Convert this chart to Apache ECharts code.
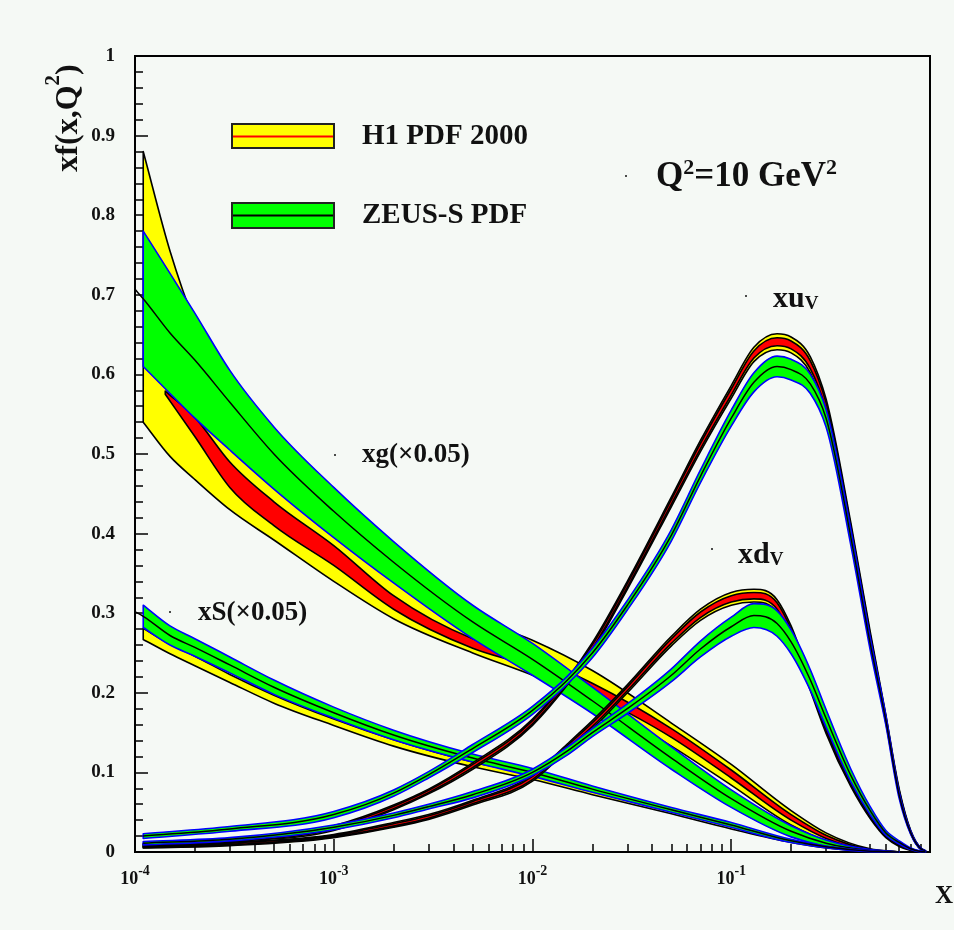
<!DOCTYPE html>
<html>
<head>
<meta charset="utf-8">
<script src="https://cdn.jsdelivr.net/npm/echarts@6.0.0/dist/echarts.min.js"></script>
<style>
  html, body { margin: 0; padding: 0; background: #f5f9f5; }
  #chart { width: 954px; height: 930px; }
</style>
</head>
<body>
<div id="chart"></div>
<script>
// ---- x grids -------------------------------------------------------------
const xLineStart = 1e-4;
const xBand = [1.1e-4, 1.5e-4, 2e-4, 3e-4, 5e-4, 1e-3, 2e-3, 5e-3, 1e-2, 2e-2, 5e-2, 0.1, 0.2, 0.3, 0.5, 0.7];
const xExp  = [1.42e-4, 2e-4, 3e-4, 5e-4, 1e-3, 2e-3, 5e-3, 1e-2, 2e-2, 5e-2, 0.1, 0.2, 0.3, 0.5, 0.7];
const xVal  = [1.1e-4, 3e-4, 1e-3, 2e-3, 3e-3, 5e-3, 1e-2, 1.5e-2, 2e-2, 3e-2, 5e-2, 7e-2, 0.1, 0.13, 0.17, 0.2, 0.25, 0.3, 0.4, 0.5, 0.6, 0.7, 0.8, 0.9, 0.95];
const xMinorTicks = [2e-4, 3e-4, 4e-4, 5e-4, 6e-4, 7e-4, 8e-4, 9e-4,
                     2e-3, 3e-3, 4e-3, 5e-3, 6e-3, 7e-3, 8e-3, 9e-3,
                     2e-2, 3e-2, 4e-2, 5e-2, 6e-2, 7e-2, 8e-2, 9e-2,
                     0.2, 0.3, 0.4, 0.5, 0.6, 0.7, 0.8, 0.9];

// ---- gluon xg (x0.05) ------------------------------------------------------
// H1 PDF 2000: total band (yellow) and experimental band (red)
const h1XgLo    = [0.54, 0.497, 0.468, 0.43, 0.392, 0.34, 0.293, 0.25, 0.222, 0.19, 0.133, 0.084, 0.034, 0.014, 0.002, 0];
const h1XgHi    = [0.88, 0.755, 0.665, 0.58, 0.505, 0.425, 0.358, 0.295, 0.266, 0.228, 0.162, 0.11, 0.052, 0.024, 0.004, 0];
const h1XgExpLo = [0.575, 0.522, 0.458, 0.41, 0.36, 0.305, 0.256, 0.232, 0.198, 0.144, 0.093, 0.04, 0.017, 0.002, 0];
const h1XgExpHi = [0.579, 0.546, 0.49, 0.44, 0.385, 0.322, 0.268, 0.246, 0.212, 0.155, 0.103, 0.047, 0.021, 0.003, 0];
// ZEUS-S: band and central fit (central curve starts at xLineStart)
const zXgLo  = [0.61, 0.576, 0.545, 0.505, 0.456, 0.395, 0.338, 0.268, 0.222, 0.174, 0.104, 0.056, 0.019, 0.007, 0.001, 0];
const zXgHi  = [0.78, 0.727, 0.677, 0.605, 0.534, 0.458, 0.39, 0.31, 0.262, 0.207, 0.132, 0.078, 0.033, 0.015, 0.003, 0];
const zXgMid = [0.707, 0.695, 0.652, 0.618, 0.565, 0.50, 0.428, 0.364, 0.289, 0.242, 0.19, 0.118, 0.067, 0.026, 0.011, 0.002, 0];

// ---- sea xS (x0.05) --------------------------------------------------------
const h1SMid = [0.274, 0.255, 0.24, 0.218, 0.192, 0.163, 0.137, 0.11, 0.094, 0.075, 0.05, 0.031, 0.013, 0.006, 0.001, 0];
const h1SErr = [0.007, 0.006, 0.006, 0.005, 0.005, 0.004, 0.004, 0.003, 0.003, 0.003, 0.002, 0.002, 0.001, 0.001, 0.0003, 0];
const zSMid  = [0.302, 0.296, 0.272, 0.257, 0.235, 0.207, 0.175, 0.147, 0.118, 0.10, 0.079, 0.053, 0.034, 0.014, 0.0065, 0.001, 0];
const zSErr  = [0.014, 0.012, 0.011, 0.01, 0.009, 0.007, 0.006, 0.005, 0.005, 0.004, 0.003, 0.003, 0.002, 0.001, 0.0005, 0];

// ---- valence xu_v ----------------------------------------------------------
const h1UvMid    = [0.009, 0.015, 0.03, 0.056, 0.076, 0.108, 0.163, 0.214, 0.258, 0.335, 0.44, 0.51, 0.578, 0.625, 0.641, 0.637, 0.612, 0.56, 0.405, 0.27, 0.167, 0.075, 0.025, 0.004, 0.001];
const h1UvErr    = [0.002, 0.002, 0.003, 0.003, 0.003, 0.004, 0.004, 0.004, 0.005, 0.005, 0.006, 0.007, 0.008, 0.009, 0.01, 0.01, 0.01, 0.009, 0.008, 0.007, 0.005, 0.004, 0.002, 0.001, 0.0005];
const h1UvExpErr = [0.001, 0.001, 0.0015, 0.0015, 0.0015, 0.002, 0.002, 0.002, 0.0025, 0.0025, 0.003, 0.0035, 0.004, 0.0045, 0.005, 0.005, 0.005, 0.0045, 0.004, 0.0035, 0.0025, 0.002, 0.001, 0.0005, 0.0002];
const zUvMid = [0.02, 0.029, 0.047, 0.074, 0.097, 0.13, 0.178, 0.216, 0.25, 0.31, 0.398, 0.472, 0.545, 0.59, 0.61, 0.606, 0.588, 0.545, 0.395, 0.262, 0.165, 0.071, 0.024, 0.004, 0.001];
const zUvErr = [0.003, 0.003, 0.004, 0.004, 0.004, 0.005, 0.005, 0.005, 0.006, 0.006, 0.007, 0.008, 0.01, 0.012, 0.013, 0.013, 0.012, 0.011, 0.01, 0.008, 0.006, 0.004, 0.002, 0.001, 0.0005];

// ---- valence xd_v ----------------------------------------------------------
const h1DvMid    = [0.006, 0.01, 0.02, 0.034, 0.044, 0.062, 0.093, 0.132, 0.16, 0.205, 0.265, 0.298, 0.318, 0.322, 0.309, 0.276, 0.21, 0.155, 0.087, 0.046, 0.021, 0.009, 0.003, 0.0005, 0.0001];
const h1DvErr    = [0.001, 0.002, 0.002, 0.003, 0.003, 0.003, 0.004, 0.004, 0.005, 0.005, 0.006, 0.007, 0.008, 0.008, 0.008, 0.008, 0.007, 0.006, 0.005, 0.004, 0.003, 0.002, 0.001, 0.0003, 0.0001];
const h1DvExpErr = [0.0005, 0.001, 0.001, 0.0015, 0.0015, 0.0015, 0.002, 0.002, 0.0025, 0.0025, 0.003, 0.0035, 0.004, 0.004, 0.004, 0.004, 0.0035, 0.003, 0.0025, 0.002, 0.0015, 0.001, 0.0005, 0.0002, 0.0001];
const zDvMid = [0.011, 0.016, 0.031, 0.046, 0.057, 0.072, 0.1, 0.127, 0.15, 0.18, 0.222, 0.255, 0.283, 0.297, 0.287, 0.264, 0.216, 0.168, 0.096, 0.052, 0.024, 0.012, 0.004, 0.0006, 0.0001];
const zDvErr = [0.002, 0.002, 0.003, 0.003, 0.003, 0.004, 0.004, 0.005, 0.005, 0.006, 0.008, 0.01, 0.012, 0.015, 0.016, 0.015, 0.013, 0.011, 0.008, 0.005, 0.003, 0.002, 0.001, 0.0005, 0.0001];

// ---- styling ---------------------------------------------------------------
const FONT = '"Liberation Serif", "Times New Roman", serif';
const YELLOW = '#ffff00', RED = '#ff0000', GREEN = '#00ff00', BLUE = '#0000ff', INK = '#000000';

const plus  = (c, e) => c.map((v, i) => v + e[i]);
const minus = (c, e) => c.map((v, i) => Math.max(0, v - e[i]));

// Shape-preserving cubic path through pixel points (x strictly monotone).
function curve(pts, start) {
  const n = pts.length;
  let d = start ? 'M' + pts[0][0] + ' ' + pts[0][1] : '';
  if (n < 2) return d;
  const dx = [], m = [];
  for (let i = 0; i < n - 1; i++) {
    dx.push(pts[i + 1][0] - pts[i][0]);
    m.push((pts[i + 1][1] - pts[i][1]) / dx[i]);
  }
  const t = [m[0]];
  for (let i = 1; i < n - 1; i++) {
    if (m[i - 1] * m[i] <= 0) { t.push(0); continue; }
    const p = (m[i - 1] * dx[i] + m[i] * dx[i - 1]) / (dx[i - 1] + dx[i]);
    t.push(Math.sign(m[i]) * Math.min(Math.abs(p), 3 * Math.min(Math.abs(m[i - 1]), Math.abs(m[i]))));
  }
  t.push(m[n - 2]);
  for (let i = 0; i < n - 1; i++) {
    const h = dx[i] / 3;
    d += ' C' + (pts[i][0] + h) + ' ' + (pts[i][1] + h * t[i]) + ' ' +
         (pts[i + 1][0] - h) + ' ' + (pts[i + 1][1] - h * t[i + 1]) + ' ' +
         pts[i + 1][0] + ' ' + pts[i + 1][1];
  }
  return d;
}

// Filled uncertainty band between lo and hi, outlined.
function band(name, xs, lo, hi, fill, edge) {
  return {
    name, type: 'custom', coordinateSystem: 'cartesian2d', silent: true,
    data: [[xs[0], hi[0]]],
    renderItem(params, api) {
      const top = xs.map((x, i) => api.coord([x, hi[i]]));
      const bot = xs.map((x, i) => api.coord([x, lo[i]])).reverse();
      const d = curve(top, true) + ' L' + bot[0][0] + ' ' + bot[0][1] + curve(bot, false) + ' Z';
      return { type: 'path', shape: { pathData: d },
               style: { fill, stroke: edge, lineWidth: 1.6, lineJoin: 'round' } };
    }
  };
}

// Central fit curve.
function central(name, xs, ys) {
  return {
    name, type: 'custom', coordinateSystem: 'cartesian2d', silent: true,
    data: [[xs[0], ys[0]]],
    renderItem(params, api) {
      const pts = xs.map((x, i) => api.coord([x, ys[i]]));
      return { type: 'path', shape: { pathData: curve(pts, true) },
               style: { fill: 'none', stroke: INK, lineWidth: 1.5 } };
    }
  };
}

const xBandLine = [xLineStart].concat(xBand);

const series = [
  // gluon
  band('H1 xg total', xBand, h1XgLo, h1XgHi, YELLOW, INK),
  band('H1 xg exp', xExp, h1XgExpLo, h1XgExpHi, RED, INK),
  band('ZEUS-S xg', xBand, zXgLo, zXgHi, GREEN, BLUE),
  central('ZEUS-S xg fit', xBandLine, zXgMid),
  // sea
  band('H1 xS total', xBand, minus(h1SMid, h1SErr), plus(h1SMid, h1SErr), YELLOW, INK),
  band('ZEUS-S xS', xBand, minus(zSMid.slice(1), zSErr), plus(zSMid.slice(1), zSErr), GREEN, BLUE),
  central('ZEUS-S xS fit', xBandLine, zSMid),
  // u valence
  band('H1 xuv total', xVal, minus(h1UvMid, h1UvErr), plus(h1UvMid, h1UvErr), YELLOW, INK),
  band('H1 xuv exp', xVal, minus(h1UvMid, h1UvExpErr), plus(h1UvMid, h1UvExpErr), RED, INK),
  band('ZEUS-S xuv', xVal, minus(zUvMid, zUvErr), plus(zUvMid, zUvErr), GREEN, BLUE),
  central('ZEUS-S xuv fit', xVal, zUvMid),
  // d valence
  band('H1 xdv total', xVal, minus(h1DvMid, h1DvErr), plus(h1DvMid, h1DvErr), YELLOW, INK),
  band('H1 xdv exp', xVal, minus(h1DvMid, h1DvExpErr), plus(h1DvMid, h1DvExpErr), RED, INK),
  band('ZEUS-S xdv', xVal, minus(zDvMid, zDvErr), plus(zDvMid, zDvErr), GREEN, BLUE),
  central('ZEUS-S xdv fit', xVal, zDvMid)
];

// ---- annotations -----------------------------------------------------------
function txt(x, y, text, size, rich, align, rotation) {
  return {
    type: 'text', x, y, silent: true, z: 100, rotation: rotation || 0,
    style: { text, font: 'bold ' + size + 'px ' + FONT, fill: '#111',
             textAlign: align || 'left', textVerticalAlign: 'middle', rich: rich || undefined }
  };
}
const dot = (x, y) => ({ type: 'circle', silent: true, z: 100, shape: { cx: x, cy: y, r: 1 }, style: { fill: '#111' } });

const richSup = (main, mainLH, sup, supLH) => ({
  m: { fontSize: main, fontWeight: 'bold', fontFamily: FONT, lineHeight: mainLH, fill: '#111' },
  s: { fontSize: sup, fontWeight: 'bold', fontFamily: FONT, lineHeight: supLH, verticalAlign: 'top', fill: '#111' },
  d: { fontSize: sup, fontWeight: 'bold', fontFamily: FONT, lineHeight: supLH, verticalAlign: 'bottom', fill: '#111' }
});

const graphic = [
  // legend
  { type: 'rect', silent: true, z: 100, shape: { x: 232, y: 124, width: 102, height: 24 }, style: { fill: YELLOW, stroke: '#222', lineWidth: 2 } },
  { type: 'line', silent: true, z: 101, shape: { x1: 233, y1: 136.5, x2: 333, y2: 136.5 }, style: { stroke: RED, lineWidth: 2 } },
  { type: 'rect', silent: true, z: 100, shape: { x: 232, y: 203, width: 102, height: 25 }, style: { fill: GREEN, stroke: '#222', lineWidth: 2 } },
  { type: 'line', silent: true, z: 101, shape: { x1: 233, y1: 215.5, x2: 333, y2: 215.5 }, style: { stroke: INK, lineWidth: 2 } },
  txt(362, 137, 'H1 PDF 2000', 29),
  txt(362, 216, 'ZEUS-S PDF', 29),
  // curve labels
  dot(626, 176),
  txt(656, 177, '{m|Q}{s|2}{m|=10 GeV}{s|2}', 35, richSup(35, 40, 22, 6)),
  dot(335, 455),
  txt(362, 455, 'xg(\u00d70.05)', 27),
  dot(170, 612),
  txt(198, 613, 'xS(\u00d70.05)', 27),
  dot(746, 296),
  txt(773, 299, '{m|xu}{d|V}', 30, richSup(30, 30, 19, 10)),
  dot(712, 549),
  txt(738, 555, '{m|xd}{d|V}', 30, richSup(30, 30, 19, 10)),
  // axis titles
  txt(69, 118, '{m|xf(x,Q}{s|2}{m|)}', 32, richSup(32, 52, 21, 4), 'center', Math.PI / 2),
  txt(944, 897, 'X', 25, null, 'center')
];

const axisText = { color: '#111', fontFamily: FONT, fontWeight: 'bold' };

const option = {
  backgroundColor: '#f5f9f5',
  animation: false,
  grid: { left: 135, right: 24, top: 56, bottom: 78, show: true, borderColor: INK, borderWidth: 2, backgroundColor: 'transparent' },
  xAxis: [
    {
      type: 'log', logBase: 10, min: 1e-4, max: 1, position: 'bottom',
      axisLine: { lineStyle: { color: INK, width: 2 } },
      axisTick: { inside: true, length: 13, lineStyle: { color: INK, width: 1.5 } },
      splitLine: { show: false },
      axisLabel: {
        margin: 12,
        formatter: v => {
          const e = Math.round(Math.log10(v));
          return e >= 0 ? '' : '{b|10}{e|' + e + '}';
        },
        rich: {
          b: Object.assign({ fontSize: 18, lineHeight: 30 }, axisText),
          e: Object.assign({ fontSize: 14, lineHeight: 4, verticalAlign: 'top' }, axisText)
        }
      }
    },
    {
      type: 'log', logBase: 10, min: 1e-4, max: 1, position: 'bottom',
      axisLine: { show: false }, axisLabel: { show: false }, splitLine: { show: false },
      axisTick: { inside: true, length: 8, customValues: xMinorTicks, lineStyle: { color: INK, width: 1.5 } }
    }
  ],
  yAxis: {
    type: 'value', min: 0, max: 1, interval: 0.1,
    axisLine: { show: true, lineStyle: { color: INK, width: 2 } },
    axisTick: { show: true, inside: true, length: 13, lineStyle: { color: INK, width: 1.5 } },
    minorTick: { show: true, splitNumber: 5, length: 8, lineStyle: { color: INK, width: 1.5 } },
    splitLine: { show: false },
    axisLabel: Object.assign({ margin: 20, fontSize: 19 }, axisText)
  },
  series,
  graphic
};

const chart = echarts.init(document.getElementById('chart'), null, { renderer: 'canvas' });
chart.setOption(option);
</script>
</body>
</html>
